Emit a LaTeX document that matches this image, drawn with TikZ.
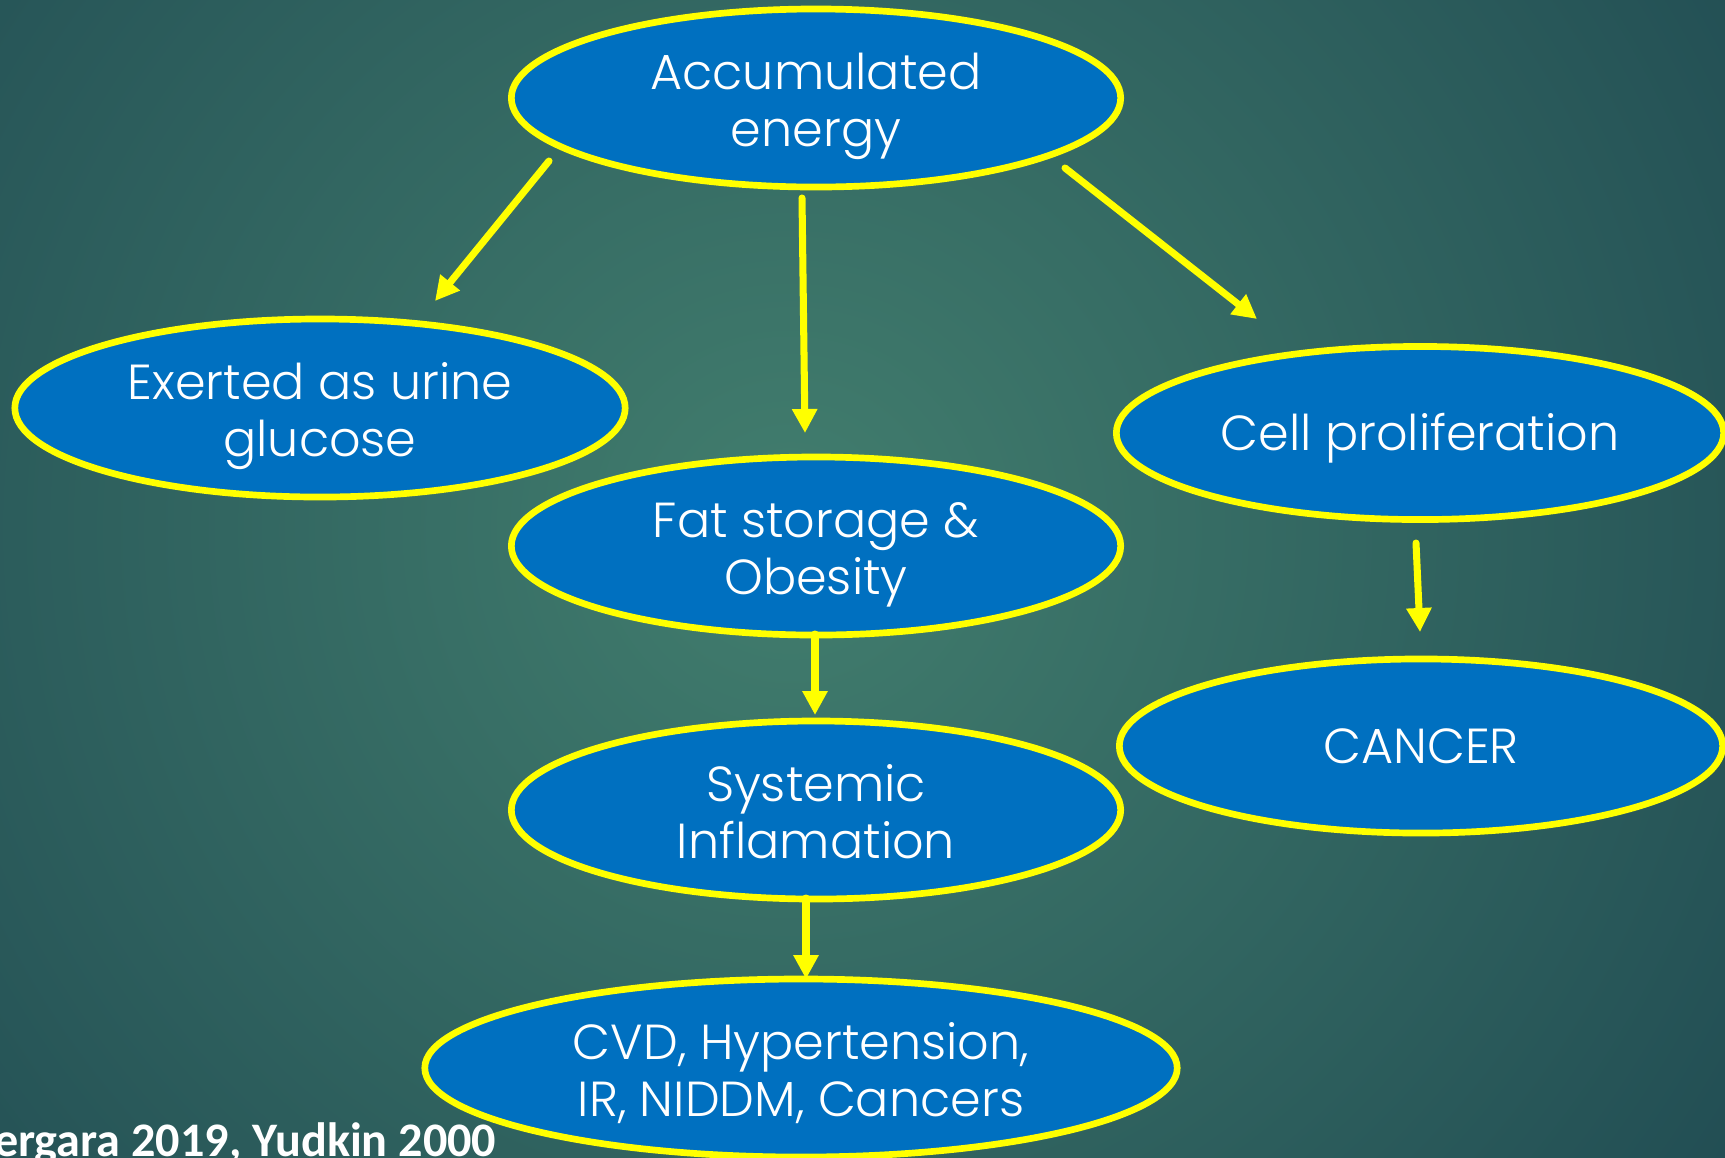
\documentclass[tikz,border=0pt]{standalone}
\usepackage{fontspec}
\setmainfont{Poppins}[UprightFont=* Light]
\newfontfamily\calib{Carlito}
\usetikzlibrary{shapes.geometric,arrows.meta}
\definecolor{ebl}{RGB}{0,112,192}
\definecolor{yel}{RGB}{255,255,0}
\definecolor{bgin}{RGB}{66,126,110}
\definecolor{bgout}{RGB}{22,60,74}
\newcommand\hiA{\rule{0pt}{15.6pt}}
\newcommand\hiB{\rule{0pt}{14.2pt}}
\newcommand\loA{\rule[-4pt]{0pt}{4pt}}
\begin{document}
\begin{tikzpicture}[x=0.01cm,y=-0.01cm,
 bub/.style={ellipse, draw=yel, line width=1.9pt, fill=ebl, text=white, inner sep=0pt,
   align=center, font=\fontsize{14pt}{16.2pt}\selectfont},
 arr/.style={draw=yel, line width=2pt, line cap=round, -{Triangle[length=0.24cm,width=0.24cm]}}]
\useasboundingbox (0,0) rectangle (1725,1157);
\clip (0,0) rectangle (1725,1157);
\fill[bgout] (0,0) rectangle (1725,1157);
\shade[inner color=bgin, outer color=bgout] (790,530) circle (15.5cm);

\node[bub, minimum width=6.09cm, minimum height=1.74cm] (acc) at (816,98) {\hiA Accumulated\\energy\loA};
\node[bub, minimum width=6.10cm, minimum height=1.76cm] (urine) at (320,408) {\hiA Exerted as urine\\glucose\loA};
\node[bub, minimum width=6.09cm, minimum height=1.76cm] (fat) at (816,546) {\hiA Fat storage \&\\Obesity\loA};
\node[bub, minimum width=6.07cm, minimum height=1.73cm] (cell) at (1420,433) {\hiB Cell proliferation\loA};
\node[bub, minimum width=6.03cm, minimum height=1.74cm] (cancer) at (1421,746) {\hiB CANCER\loA};
\node[bub, minimum width=6.09cm, minimum height=1.75cm] (sys) at (816,810) {\hiA Systemic\\Inflamation\loA};
\node[bub, minimum width=7.52cm, minimum height=1.74cm] (cvd) at (801,1068) {\hiA CVD, Hypertension,\\IR, NIDDM, Cancers\loA};

\coordinate (a1s) at (549,161); \coordinate (a1e) at (435,301);
\coordinate (a2s) at (802,198); \coordinate (a2e) at (805,433);
\coordinate (a3s) at (1065,168); \coordinate (a3e) at (1257,319);
\coordinate (a4s) at (815,634); \coordinate (a4e) at (815,715);
\coordinate (a5s) at (806,898); \coordinate (a5e) at (806,979);
\coordinate (a6s) at (1416,543); \coordinate (a6e) at (1420,632);

\draw[arr] (a1s) -- (a1e);
\draw[arr] (a2s) -- (a2e);
\draw[arr] (a3s) -- (a3e);
\draw[arr] (a4s) -- (a4e);
\draw[arr] (a5s) -- (a5e);
\draw[arr] (a6s) -- (a6e);

\node[anchor=base east, inner sep=0pt, text=white, font=\calib\bfseries\fontsize{13.7pt}{16pt}\selectfont] (ref) at (497,1156) {Vergara 2019, Yudkin 2000};
\end{tikzpicture}
\end{document}
